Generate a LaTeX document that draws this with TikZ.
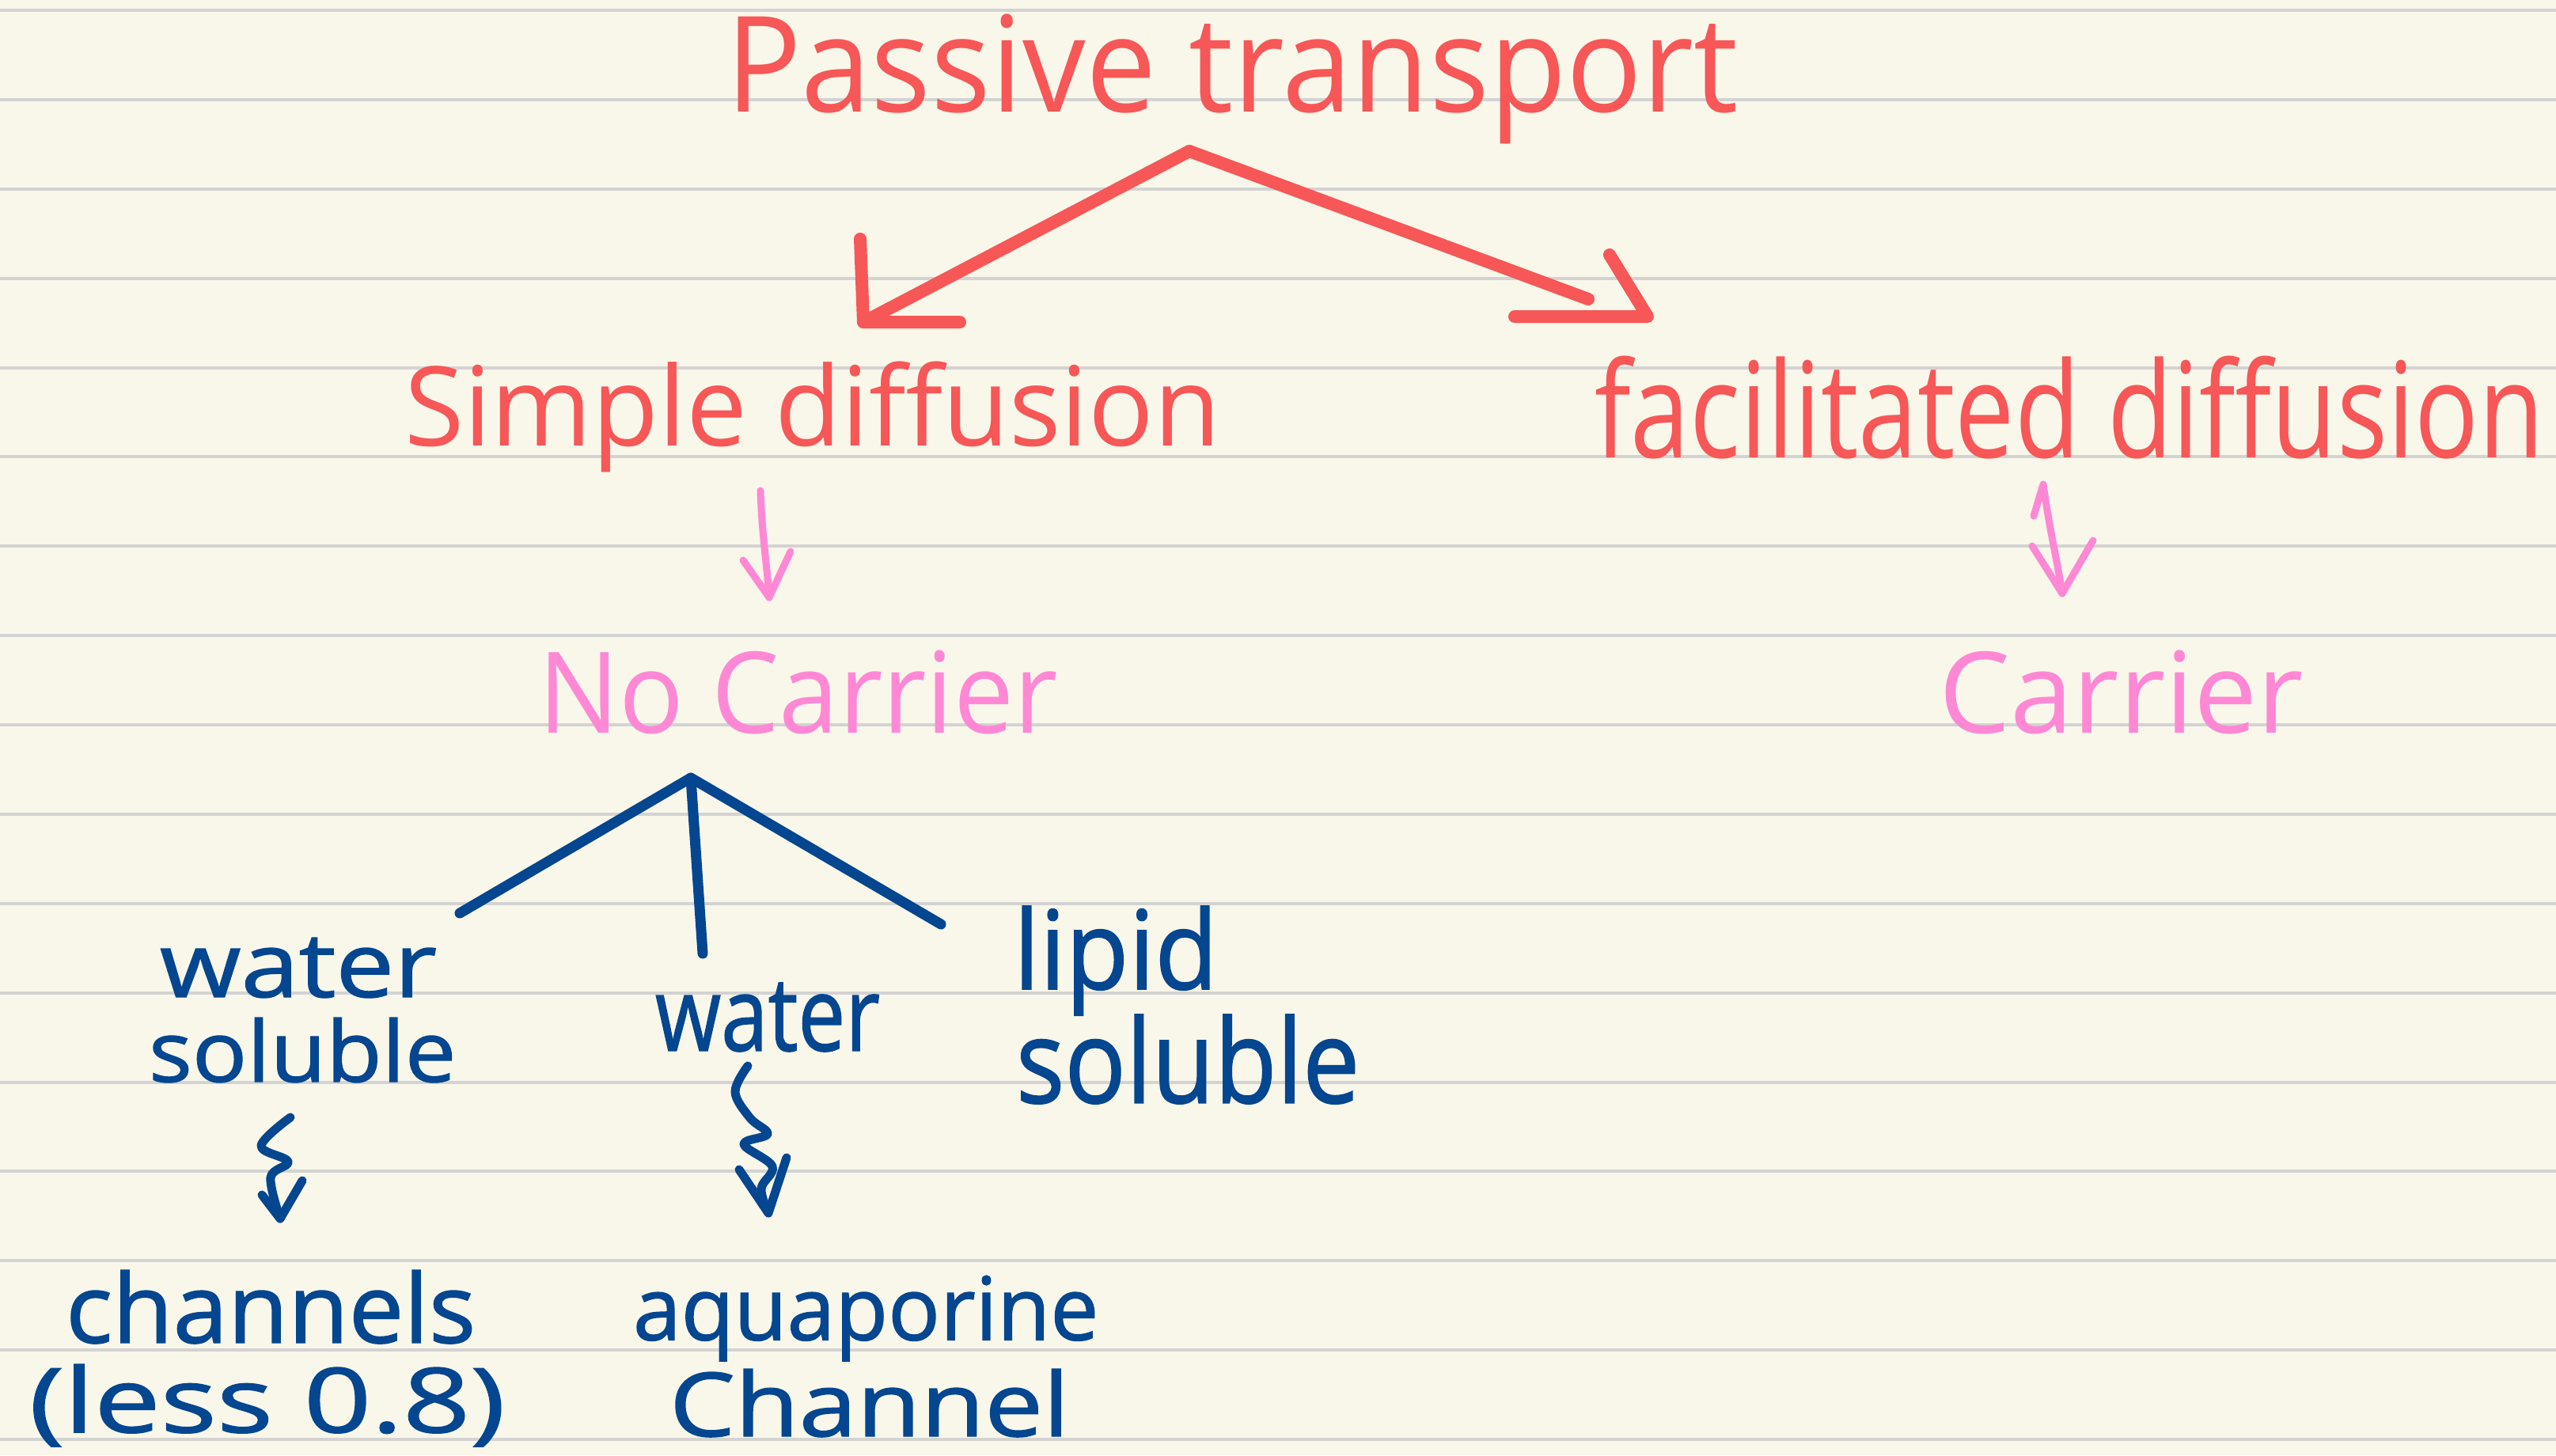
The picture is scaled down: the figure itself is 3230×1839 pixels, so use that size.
\documentclass[tikz,border=0pt]{standalone}
\usepackage{fontspec}
\setmainfont{Open Sans}
\newfontfamily\boldish[FakeBold=1.2]{Open Sans}
\usepackage{graphicx}
\usetikzlibrary{arrows.meta}
\definecolor{paper}{HTML}{F9F7EA}
\definecolor{rulegray}{HTML}{D3D3D3}
\definecolor{hred}{HTML}{F75757}
\definecolor{hpink}{HTML}{FF88D5}
\definecolor{hblue}{HTML}{04468F}
\newcommand\hw[3]{\resizebox*{#1pt}{#2pt}{#3}}
\begin{document}
\begin{tikzpicture}[x=1pt,y=-1pt,
  txt/.style={inner sep=0pt, outer sep=0pt, anchor=north west},
  redtxt/.style={txt, text=hred},
  pinktxt/.style={txt, text=hpink},
  bluetxt/.style={txt, text=hblue, font=\boldish},
  redline/.style={draw=hred, line width=16pt, line cap=round, line join=round},
  pinkline/.style={draw=hpink, line width=9pt, line cap=round, line join=round},
  blueline/.style={draw=hblue, line width=13pt, line cap=round, line join=round},
  bluesq/.style={draw=hblue, line width=11pt, line cap=round, line join=round}]
\fill[paper] (0,0) rectangle (3230,1839);
\useasboundingbox (0,0) rectangle (3230,1839);
\foreach \k in {0,...,16} \fill[rulegray] (0,{11+112.875*\k}) rectangle (3230,{15+112.875*\k});

% texts
\node[redtxt] (pt) at (917,18) {\hw{1279}{164}{Passive transport}};
\node[redtxt] (sd) at (511,457) {\hw{1030}{140}{Simple diffusion}};
\node[redtxt] (fd) at (2015,450) {\hw{1199}{130}{facilitated diffusion}};
\node[pinktxt] (nc) at (680,822) {\hw{656}{106}{No Carrier}};
\node[pinktxt] (ca) at (2450,822) {\hw{461}{106}{Carrier}};
\node[bluetxt] (wa1) at (202,1185) {\hw{350}{76}{water}};
\node[bluetxt] (so1) at (188,1286) {\hw{388}{82}{soluble}};
\node[bluetxt] (wa2) at (828,1242) {\hw{284}{87}{water}};
\node[bluetxt] (li) at (1281,1145) {\hw{258}{138}{lipid}};
\node[bluetxt] (so2) at (1284,1282) {\hw{434}{113}{soluble}};
\node[bluetxt] (ch1) at (83,1605) {\hw{518}{93}{channels}};
\node[bluetxt] (ch2) at (37,1724) {\hw{601}{104}{(less 0.8)}};
\node[bluetxt] (aq1) at (800,1612) {\hw{588}{108}{aquaporine}};
\node[bluetxt] (aq2) at (846,1730) {\hw{505}{86}{Channel}};

% red arrows
\coordinate (apex) at (1503,191);
\coordinate (ltip) at (1091,407);
\coordinate (rend) at (2007,378);
\coordinate (rtip) at (2082,400);
\draw[redline] (apex) -- (ltip);
\draw[redline] (1087,302) -- (ltip) -- (1213,407);
\draw[redline] (apex) -- (rend);
\draw[redline] (1914,400) -- (rtip) -- (2034,322);

% pink arrows
\coordinate (p1a) at (961,620);
\coordinate (p1b) at (972,755);
\draw[pinkline] (p1a) .. controls (963,680) and (970,720) .. (p1b);
\draw[pinkline] (939,708) -- (p1b) -- (999,697);
\coordinate (p2a) at (2582,612);
\coordinate (p2b) at (2606,750);
\draw[pinkline] (2570,652) -- (p2a) .. controls (2590,670) and (2600,710) .. (p2b);
\draw[pinkline] (2568,690) -- (p2b) -- (2645,683);

% blue tree
\coordinate (bapex) at (873,983);
\coordinate (b1) at (581,1154);
\coordinate (b2) at (888,1205);
\coordinate (b3) at (1189,1168);
\draw[blueline] (b1) -- (bapex) -- (b3);
\draw[blueline] (bapex) -- (b2);

% squiggle arrows
\coordinate (s1a) at (367,1412);
\coordinate (s1b) at (354,1540);
\draw[bluesq] plot[smooth, tension=0.6] coordinates {(s1a) (330,1448) (364,1468) (342,1488) (s1b)};
\draw[bluesq] (331,1510) -- (s1b) -- (382,1492);
\coordinate (s2a) at (945,1347);
\coordinate (s2b) at (971,1533);
\draw[bluesq] plot[smooth, tension=0.6] coordinates {(s2a) (929,1380) (948,1413) (970,1433) (940,1446) (976,1474) (962,1502) (s2b)};
\draw[bluesq] (934,1478) -- (s2b) -- (994,1463);
\end{tikzpicture}
\end{document}
